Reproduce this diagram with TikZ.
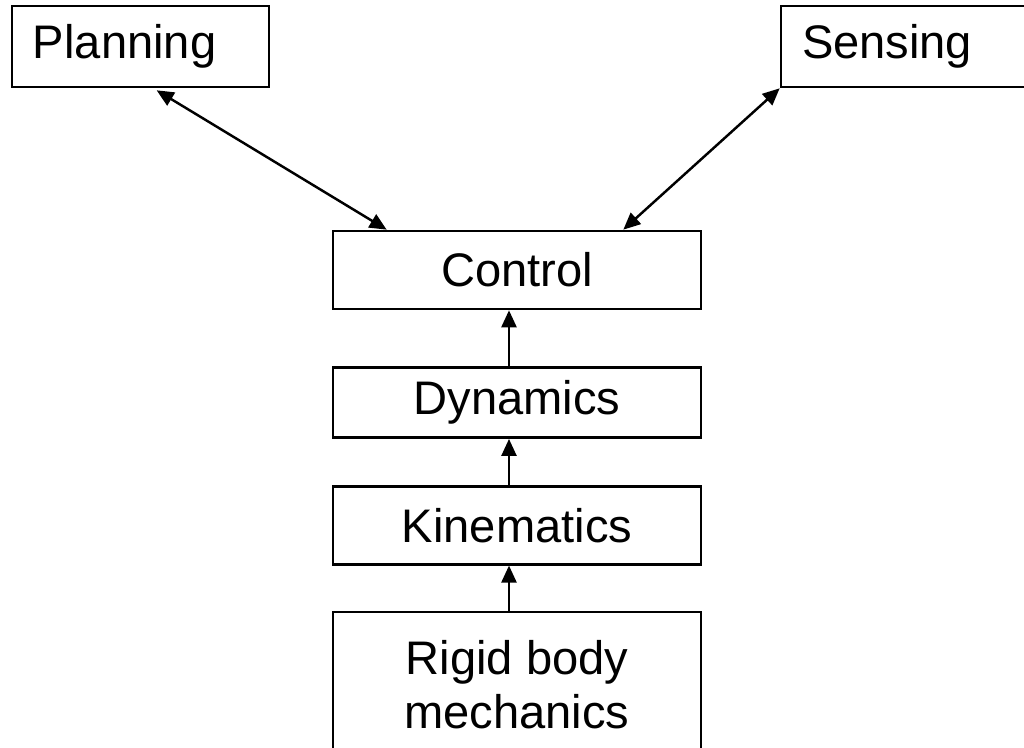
\documentclass[tikz,border=0pt]{standalone}
\usepackage{fontspec}
\setmainfont{Liberation Sans}
\usetikzlibrary{arrows.meta,positioning}

\begin{document}
\begin{tikzpicture}[
  box/.style={draw, line width=0.75pt, align=center, font=\fontsize{13.4pt}{15.5pt}\selectfont, inner sep=0pt, minimum width=3.68cm},
  topbox/.style={draw, line width=0.75pt, align=left, font=\fontsize{13.4pt}{15.5pt}\selectfont, inner xsep=0.21cm, inner ysep=0pt, text width=2.15cm, minimum height=0.81cm},
  arr/.style={-{Triangle[length=1.7mm, width=1.5mm]}, line width=0.7pt},
  darr/.style={{Triangle[length=1.7mm, width=1.5mm]}-{Triangle[length=1.7mm, width=1.5mm]}, line width=0.7pt}
]
\useasboundingbox (0,0) rectangle (10.24,7.48);
\clip (0,0) rectangle (10.24,7.48);
\node[topbox] (p) at (1.405,7.015) {Planning};
\node[topbox] (s) at (9.095,7.015) {Sensing};
\node[box, minimum height=0.78cm] (c) at (5.17,4.78) {Control};
\node[box, minimum height=0.70cm, below=0.56cm of c] (d) {Dynamics};
\node[box, minimum height=0.78cm, below=0.46cm of d] (k) {Kinematics};
\node[box, minimum height=1.46cm, below=0.45cm of k] (r) {Rigid body\\mechanics};
\draw[darr] ([xshift=1.46cm, yshift=-0.02cm]p.south west) -- ([xshift=0.55cm]c.north west);
\draw[darr] (s.south west) -- ([xshift=-0.79cm]c.north east);
\draw[arr] ([xshift=-0.08cm]d.north) -- ([xshift=-0.08cm]c.south);
\draw[arr] ([xshift=-0.08cm]k.north) -- ([xshift=-0.08cm]d.south);
\draw[arr] ([xshift=-0.08cm]r.north) -- ([xshift=-0.08cm]k.south);
\end{tikzpicture}
\end{document}
